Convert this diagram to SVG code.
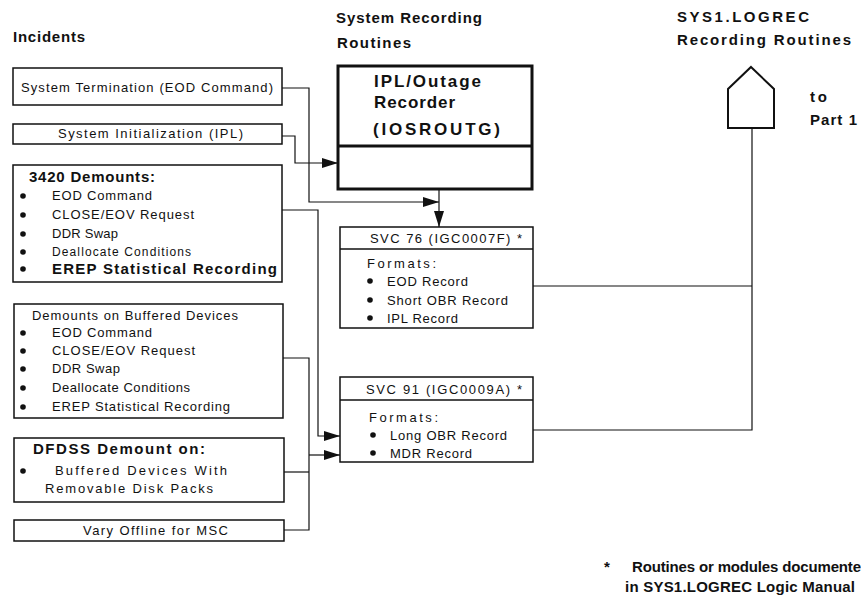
<svg xmlns="http://www.w3.org/2000/svg" width="861" height="605" viewBox="0 0 861 605">
<style>
text{font-family:"Liberation Sans",Arial,sans-serif;fill:#111}
.h{font-size:15px;font-weight:bold}
.b{font-size:13px}
.s{font-size:12px}
.bb{font-size:15px;font-weight:bold}
.ipl{font-size:17px;font-weight:bold}
.box{fill:#fff;stroke:#111;stroke-width:1.5}
.thick{fill:#fff;stroke:#111;stroke-width:3}
.ln{fill:none;stroke:#111;stroke-width:1.2}
.dot{fill:#111}
</style>
<defs>
<marker id="arr" markerUnits="userSpaceOnUse" markerWidth="16" markerHeight="10" refX="16" refY="5" orient="auto">
<path d="M0,0 L16,5 L0,10 Z" fill="#111"/>
</marker>
</defs>

<g id="headers">
<text class="h" x="13" y="42" textLength="72">Incidents</text>
<text class="h" x="336" y="23" textLength="146">System Recording</text>
<text class="h" x="337" y="48" textLength="74">Routines</text>
<text class="h" x="677" y="22" textLength="132">SYS1.LOGREC</text>
<text class="h" x="677" y="45" textLength="174">Recording Routines</text>
<text class="h" x="810" y="102" textLength="17">to</text>
<text class="h" x="810" y="125" textLength="47">Part 1</text>
</g>

<g id="connectors">
<polyline class="ln" points="282,88 309,88 309,202 439,202" marker-end="url(#arr)"/>
<polyline class="ln" points="282,136 295,136 295,163 338,163" marker-end="url(#arr)"/>
<polyline class="ln" points="439,189 439,227" marker-end="url(#arr)"/>
<polyline class="ln" points="282,210 318,210 318,436 340,436" marker-end="url(#arr)"/>
<polyline class="ln" points="283,358 309,358 309,530 284,530"/>
<polyline class="ln" points="284,472 309,472"/>
<polyline class="ln" points="309,455 340,455" marker-end="url(#arr)"/>
<polyline class="ln" points="533,286 752,286"/>
<polyline class="ln" points="533,430 752,430 752,128"/>
</g>

<g id="n-systerm">
<rect class="box" x="13" y="68" width="269" height="37"/>
<text class="b" x="21" y="92" textLength="252">System Termination (EOD Command)</text>
</g>

<g id="n-sysinit">
<rect class="box" x="13" y="124" width="269" height="20"/>
<text class="b" x="58" y="138" textLength="185">System Initialization (IPL)</text>
</g>

<g id="n-3420">
<rect class="box" x="13" y="165" width="269" height="117"/>
<text class="bb" x="29" y="182" textLength="126">3420 Demounts:</text>
<circle class="dot" cx="23" cy="196" r="2.8"/>
<text class="b" x="52" y="200" textLength="100">EOD Command</text>
<circle class="dot" cx="23" cy="215" r="2.8"/>
<text class="b" x="52" y="219" textLength="142">CLOSE/EOV Request</text>
<circle class="dot" cx="23" cy="234" r="2.8"/>
<text class="b" x="52" y="238" textLength="66">DDR Swap</text>
<circle class="dot" cx="23" cy="252" r="2.8"/>
<text class="s" x="52" y="256" textLength="139">Deallocate Conditions</text>
<circle class="dot" cx="23" cy="269" r="2.8"/>
<text class="bb" x="52" y="274" textLength="225">EREP Statistical Recording</text>
</g>

<g id="n-buffered">
<rect class="box" x="14" y="304" width="269" height="114"/>
<text class="b" x="32" y="320" textLength="206">Demounts on Buffered Devices</text>
<circle class="dot" cx="23" cy="333" r="2.8"/>
<text class="b" x="52" y="337" textLength="100">EOD Command</text>
<circle class="dot" cx="23" cy="351" r="2.8"/>
<text class="b" x="52" y="355" textLength="143">CLOSE/EOV Request</text>
<circle class="dot" cx="23" cy="369" r="2.8"/>
<text class="b" x="52" y="373" textLength="68">DDR Swap</text>
<circle class="dot" cx="23" cy="388" r="2.8"/>
<text class="b" x="52" y="392" textLength="138">Deallocate Conditions</text>
<circle class="dot" cx="23" cy="407" r="2.8"/>
<text class="b" x="52" y="411" textLength="178">EREP Statistical Recording</text>
</g>

<g id="n-dfdss">
<rect class="box" x="14" y="438" width="270" height="64"/>
<text class="bb" x="33" y="454" textLength="172">DFDSS Demount on:</text>
<circle class="dot" cx="23" cy="471" r="2.8"/>
<text class="b" x="55" y="475" textLength="172">Buffered Devices With</text>
<text class="b" x="45" y="493" textLength="168">Removable Disk Packs</text>
</g>

<g id="n-vary">
<rect class="box" x="14" y="520" width="270" height="21"/>
<text class="b" x="83" y="535" textLength="145">Vary Offline for MSC</text>
</g>

<g id="n-ipl">
<rect class="thick" x="338" y="66" width="194" height="123"/>
<line x1="338" y1="146" x2="532" y2="146" stroke="#111" stroke-width="3"/>
<text class="ipl" x="374" y="87" textLength="107">IPL/Outage</text>
<text class="ipl" x="374" y="108" textLength="81">Recorder</text>
<text class="ipl" x="373" y="135" textLength="127">(IOSROUTG)</text>
</g>

<g id="n-svc76">
<rect class="box" x="340" y="227" width="193" height="101"/>
<line x1="340" y1="249" x2="533" y2="249" stroke="#111" stroke-width="1.5"/>
<text class="b" x="370" y="243" textLength="152">SVC 76 (IGC0007F) *</text>
<text class="b" x="367" y="268" textLength="69">Formats:</text>
<circle class="dot" cx="370" cy="281" r="2.8"/>
<text class="b" x="387" y="286" textLength="81">EOD Record</text>
<circle class="dot" cx="370" cy="300" r="2.8"/>
<text class="b" x="387" y="305" textLength="121">Short OBR Record</text>
<circle class="dot" cx="370" cy="318" r="2.8"/>
<text class="b" x="387" y="323" textLength="71">IPL Record</text>
</g>

<g id="n-svc91">
<rect class="box" x="340" y="377" width="193" height="85"/>
<line x1="340" y1="400" x2="533" y2="400" stroke="#111" stroke-width="1.5"/>
<text class="b" x="366" y="394" textLength="156">SVC 91 (IGC0009A) *</text>
<text class="b" x="369" y="422" textLength="69">Formats:</text>
<circle class="dot" cx="373" cy="435" r="2.8"/>
<text class="b" x="390" y="440" textLength="117">Long OBR Record</text>
<circle class="dot" cx="373" cy="453" r="2.8"/>
<text class="b" x="390" y="458" textLength="82">MDR Record</text>
</g>

<g id="n-logrec">
<polygon points="751,67 774,89 774,128 728,128 728,89" fill="#fff" stroke="#111" stroke-width="2"/>
</g>

<g id="footnote">
<text class="h" x="604" y="572">*</text>
<text class="h" x="632" y="572" textLength="229">Routines or modules documente</text>
<text class="h" x="625" y="592" textLength="230">in SYS1.LOGREC Logic Manual</text>
</g>
</svg>
